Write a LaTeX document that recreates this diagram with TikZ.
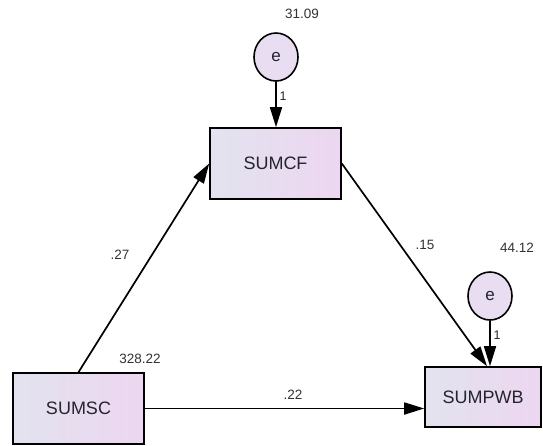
\documentclass[tikz,border=0pt]{standalone}
\usepackage{fontspec}
\setmainfont{Liberation Sans}
\usetikzlibrary{arrows.meta, calc, shapes.geometric}

\definecolor{boxLeft}{HTML}{E2E3EE}
\definecolor{boxRight}{HTML}{EDD6F1}
\definecolor{errFill}{HTML}{E8DDF1}
\definecolor{inkDark}{HTML}{26242E}

\tikzset{
  varbox/.style={draw, line width=1.6pt, rectangle, left color=boxLeft,
    right color=boxRight, font=\fontsize{18}{21}\selectfont, text=inkDark},
  errnode/.style={draw, line width=1.6pt, ellipse, minimum width=44pt,
    minimum height=48pt, inner sep=0pt, fill=errFill,
    font=\fontsize{17}{20}\selectfont, text=inkDark},
  path/.style={line width=1.7pt, -{Triangle[length=20pt,width=12pt]}},
  estim/.style={font=\fontsize{13.5}{16}\selectfont, text=black!80},
  fixed/.style={font=\fontsize{12.5}{14}\selectfont, text=inkDark}
}

\begin{document}
\begin{tikzpicture}[x=1pt, y=-1pt]

%% ---- frame: same size as the reference ----
\fill[white] (0,0) rectangle (543,445);
\useasboundingbox (0,0) rectangle (543,445);

%% ---- observed variables ----
\node[varbox, minimum width=131pt, minimum height=71pt] (cf)  at (275.5,163.5) {SUMCF};
\node[varbox, minimum width=131pt, minimum height=71pt] (sc)  at (78.5,408.5)  {SUMSC};
\node[varbox, minimum width=116pt, minimum height=60pt] (pwb) at (483,397)     {SUMPWB};

%% ---- error terms ----
\node[errnode] (e1) at (276,57)  {e};
\node[errnode] (e2) at (490,296) {e};

%% ---- structural paths ----
\coordinate (pwbIn) at ($(pwb.north)+(4,0)$);
\draw[path] (sc.north) -- (cf.west);
\draw[path] (cf.east) -- (pwbIn);
\draw[path] (sc.east) -- (sc.east -| pwb.west);

%% ---- error paths (fixed to 1) ----
\draw[path] (e1.south) -- (e1.south |- cf.north);
\draw[path] (e2.south) -- (e2.south |- pwb.north);

%% ---- coefficients ----
\node[estim] (b27) at (120,255) {.27};
\node[estim] (b15) at (425,245) {.15};
\node[estim] (b22) at (293,395) {.22};

%% ---- variances ----
\node[estim] (v1)  at (302,14)  {31.09};
\node[estim] (v2)  at (517,248) {44.12};
\node[estim] (vsc) at (140,359) {328.22};

%% ---- fixed loadings ----
\node[fixed] (f1) at (283,96)  {1};
\node[fixed] (f2) at (497,335) {1};

\end{tikzpicture}
\end{document}
